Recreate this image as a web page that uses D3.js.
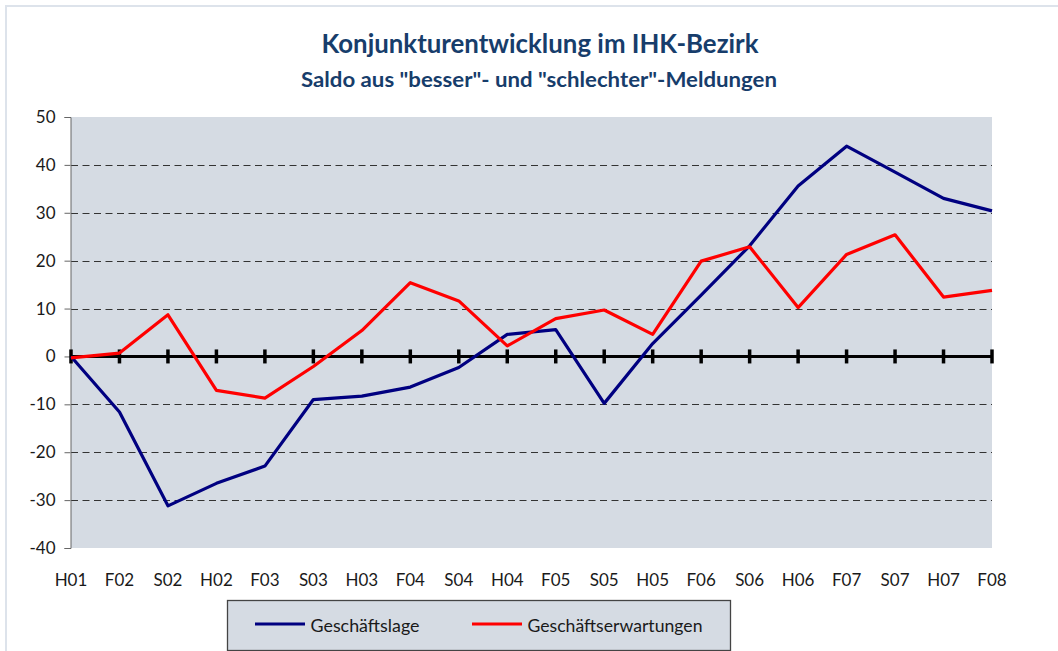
<!DOCTYPE html>
<html>
<head>
<meta charset="utf-8">
<script src="https://cdn.jsdelivr.net/npm/d3@7"></script>
<style>
  body { margin: 0; background: #ffffff; }
  text { font-family: Lato, "Open Sans", sans-serif; }
</style>
</head>
<body>
<div id="canvas"></div>
<script>
"use strict"

/* data */
let categories = ["H01", "F02", "S02", "H02", "F03", "S03", "H03", "F04", "S04", "H04",
    "F05", "S05", "H05", "F06", "S06", "H06", "F07", "S07", "H07", "F08"];
let geschaeftslage = [0, -11.6, -31.2, -26.5, -22.9, -9.0, -8.3, -6.4, -2.3, 4.6,
    5.6, -9.8, 2.7, 12.8, 23.1, 35.6, 43.9, 38.5, 33.0, 30.4];
let erwartungen = [-0.3, 0.7, 8.7, -7.1, -8.7, -2.1, 5.4, 15.4, 11.6, 2.2,
    7.9, 9.7, 4.6, 19.9, 22.9, 10.2, 21.3, 25.4, 12.4, 13.8];
let yTicks = [50, 40, 30, 20, 10, 0, -10, -20, -30, -40];
let seriesNames = ["Geschäftslage", "Geschäftserwartungen"];
let seriesColors = ["#000080", "#ff0000"];

/* drawing config */
let svgWidth = 1058;
let svgHeight = 651;
let plotLeft = 71;
let plotRight = 992;
let plotTop = 117;
let plotBottom = 548;

let svg = d3.select("#canvas")
    .append("svg")
    .attr("width", svgWidth)
    .attr("height", svgHeight);

/* outer frame */
svg.append("rect")
    .attr("x", 6)
    .attr("y", 6)
    .attr("width", svgWidth + 10)
    .attr("height", svgHeight + 10)
    .attr("fill", "none")
    .attr("stroke", "#dde3eb")
    .attr("stroke-width", 2);

let xScale = d3.scalePoint()
    .domain(categories)
    .range([plotLeft, plotRight]);

let yScale = d3.scaleLinear()
    .domain([-40, 50])
    .range([plotBottom, plotTop]);

/* plot background */
svg.append("rect")
    .attr("x", plotLeft)
    .attr("y", plotTop)
    .attr("width", plotRight - plotLeft)
    .attr("height", plotBottom - plotTop)
    .attr("fill", "#d5dbe3");

/* dashed gridlines */
svg.append("g")
    .selectAll("line")
    .data(yTicks.filter(function (d) { return d !== 0 && d !== 50 && d !== -40; }))
    .join("line")
    .attr("x1", plotLeft)
    .attr("x2", plotRight)
    .attr("y1", function (d) { return Math.round(yScale(d)) + 0.5; })
    .attr("y2", function (d) { return Math.round(yScale(d)) + 0.5; })
    .attr("stroke", "#333333")
    .attr("stroke-width", 1)
    .attr("stroke-dasharray", "7,4.5");

/* y axis, plain hyphen for negatives like the original */
let yAxis = d3.axisLeft(yScale)
    .tickValues(yTicks)
    .tickSize(6)
    .tickPadding(9)
    .tickFormat(function (d) { return String(d); });

let yAxisG = svg.append("g")
    .attr("transform", "translate(" + (plotLeft - 0.5) + ",0)")
    .call(yAxis);
yAxisG.select(".domain").attr("stroke", "#666666");
yAxisG.selectAll(".tick line").attr("stroke", "#666666");
yAxisG.selectAll(".tick text")
    .attr("fill", "#1a1a1a")
    .style("font-size", "17px")
    .style("font-family", "Lato, sans-serif");

/* zero line with category ticks */
svg.append("line")
    .attr("x1", plotLeft)
    .attr("x2", plotRight)
    .attr("y1", yScale(0))
    .attr("y2", yScale(0))
    .attr("stroke", "#000000")
    .attr("stroke-width", 3);

svg.append("g")
    .selectAll("line")
    .data(categories)
    .join("line")
    .attr("x1", function (d) { return xScale(d); })
    .attr("x2", function (d) { return xScale(d); })
    .attr("y1", yScale(0) - 7)
    .attr("y2", yScale(0) + 7)
    .attr("stroke", "#000000")
    .attr("stroke-width", 3.5);

/* x labels */
svg.append("g")
    .selectAll("text")
    .data(categories)
    .join("text")
    .attr("x", function (d) { return xScale(d); })
    .attr("y", 586)
    .attr("text-anchor", "middle")
    .attr("fill", "#1a1a1a")
    .style("font-size", "17px")
    .text(function (d) { return d; });

/* lines */
let line = d3.line()
    .x(function (d, i) { return xScale(categories[i]); })
    .y(function (d) { return yScale(d); });

[geschaeftslage, erwartungen].forEach(function (values, i) {
    svg.append("path")
        .datum(values)
        .attr("d", line)
        .attr("fill", "none")
        .attr("stroke", seriesColors[i])
        .attr("stroke-width", 3.2)
        .attr("stroke-linejoin", "round");
});

/* titles */
svg.append("text")
    .attr("x", 540)
    .attr("y", 53)
    .attr("text-anchor", "middle")
    .attr("fill", "#173d6b")
    .attr("font-weight", "bold")
    .style("font-size", "26px")
    .attr("textLength", 437)
    .attr("lengthAdjust", "spacingAndGlyphs")
    .text("Konjunkturentwicklung im IHK-Bezirk");

svg.append("text")
    .attr("x", 539)
    .attr("y", 87)
    .attr("text-anchor", "middle")
    .attr("fill", "#173d6b")
    .attr("font-weight", "bold")
    .style("font-size", "20px")
    .attr("textLength", 476)
    .attr("lengthAdjust", "spacingAndGlyphs")
    .text("Saldo aus \"besser\"- und \"schlechter\"-Meldungen");

/* legend */
svg.append("rect")
    .attr("x", 227.5)
    .attr("y", 600.5)
    .attr("width", 503)
    .attr("height", 50)
    .attr("fill", "#d5dbe3")
    .attr("stroke", "#444444")
    .attr("stroke-width", 1.3);

let legendX = [255, 472];
let legendTextLen = [109, 175];
seriesNames.forEach(function (name, i) {
    svg.append("line")
        .attr("x1", legendX[i])
        .attr("x2", legendX[i] + 50)
        .attr("y1", 624)
        .attr("y2", 624)
        .attr("stroke", seriesColors[i])
        .attr("stroke-width", 3.2);
    svg.append("text")
        .attr("x", legendX[i] + 55.5)
        .attr("y", 632)
        .attr("fill", "#1a1a1a")
        .style("font-size", "18px")
        .attr("textLength", legendTextLen[i])
        .attr("lengthAdjust", "spacingAndGlyphs")
        .text(name);
});
</script>
</body>
</html>
